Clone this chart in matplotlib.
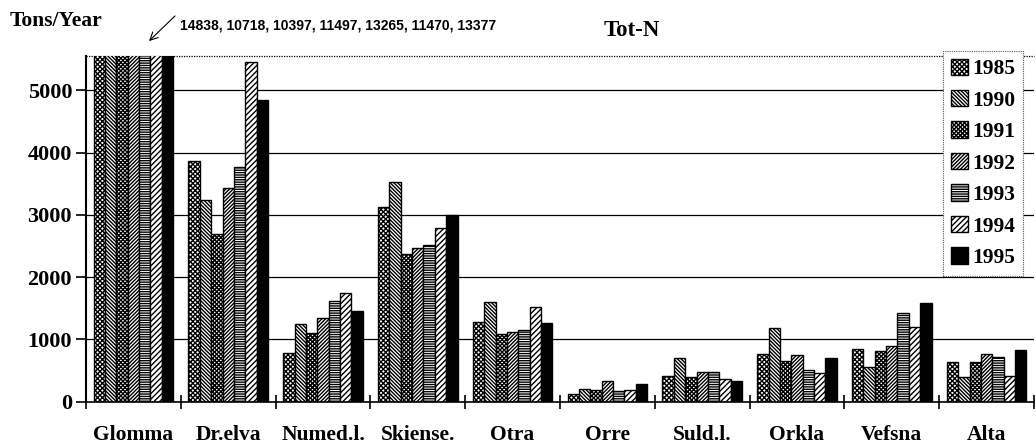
"""
Tot-N transport per river, 1985-1995 (tons/year), redrawn from the scanned figure.
Glomma is far off scale, so its bars are cut at the top and the real values
are written above the plot.
"""

import matplotlib
matplotlib.use("Agg")
import matplotlib.pyplot as plt
import numpy as np

plt.rcParams.update({
    "font.family": ["Liberation Serif", "DejaVu Serif"],
    "font.weight": "bold",
    "hatch.linewidth": 1.0,
})

rivers = ["Glomma", "Dr.elva", "Numed.l.", "Skiense.", "Otra",
          "Orre", "Suld.l.", "Orkla", "Vefsna", "Alta"]
years = ["1985", "1990", "1991", "1992", "1993", "1994", "1995"]

# tons/year, one list per year, in river order
tot_n_1985 = [14838, 3861, 786, 3128, 1278, 120, 406, 770, 845, 636]
tot_n_1990 = [10718, 3235, 1241, 3535, 1604, 200, 700, 1176, 551, 401]
tot_n_1991 = [10397, 2690, 1096, 2374, 1086, 195, 396, 647, 807, 636]
tot_n_1992 = [11497, 3428, 1348, 2471, 1112, 333, 470, 754, 888, 759]
tot_n_1993 = [13265, 3775, 1620, 2508, 1150, 165, 470, 508, 1417, 717]
tot_n_1994 = [11470, 5450, 1738, 2786, 1519, 187, 364, 455, 1193, 412]
tot_n_1995 = [13377, 4850, 1460, 2995, 1262, 290, 326, 706, 1578, 829]

series = [tot_n_1985, tot_n_1990, tot_n_1991, tot_n_1992,
          tot_n_1993, tot_n_1994, tot_n_1995]

# black-and-white fills, like the printed original
HATCHES = ["x" * 7, "\\" * 9, "x" * 8, "/" * 9, "-" * 7, "/" * 6, None]
YMAX = 5550

fig = plt.figure(figsize=(10.36, 4.48), dpi=100)
ax = fig.add_axes([86 / 1036, 46.3 / 448, 948 / 1036, 345.7 / 448])

x = np.arange(len(rivers))
w = 0.12
for j, (year, vals) in enumerate(zip(years, series)):
    hatch = HATCHES[j]
    ax.bar(x + (j - 3) * w, vals, w,
           color="black" if hatch is None else "white",
           edgecolor="black", linewidth=1.0, hatch=hatch,
           label=year, zorder=3)

ax.set_xlim(-0.5, len(rivers) - 0.5)
ax.set_ylim(0, YMAX)

# grid and frame
for v in range(1000, 6000, 1000):
    ax.axhline(v, color="black", lw=0.9, zorder=1)
ax.axhline(YMAX, color="black", lw=0.9, ls=(0, (1, 1)), zorder=1, clip_on=False)
for s in ("top", "right"):
    ax.spines[s].set_visible(False)
ax.spines["left"].set_linewidth(1.5)
ax.spines["bottom"].set_linewidth(1.2)
ax.spines["left"].set_zorder(4)
ax.spines["bottom"].set_zorder(4)

ax.set_yticks(range(0, 6000, 1000))
ax.tick_params(axis="y", direction="out", length=7, width=1.2, pad=3,
               labelsize=16)
ax.set_xticks(x, rivers)
ax.tick_params(axis="x", which="major", length=0, pad=17, labelsize=15.5)
ax.set_xticks(np.arange(-0.5, len(rivers)), minor=True)
ax.tick_params(axis="x", which="minor", direction="inout", length=10, width=1.2)

leg = ax.legend(loc="upper right", bbox_to_anchor=(1023 / 1036, 1 - 51 / 448),
                bbox_transform=fig.transFigure, borderaxespad=0,
                fontsize=15.5, handlelength=0.8, handleheight=0.8,
                handletextpad=0.2, labelspacing=0.5, borderpad=0.35,
                fancybox=False, framealpha=1)
leg.get_frame().set_edgecolor("#555555")
leg.get_frame().set_linewidth(0.8)
leg.get_frame().set_linestyle((0, (1, 1)))
leg.set_zorder(5)

fig.text(10 / 1036, 1 - 21 / 448, "Tons/Year", fontsize=15.5, va="center", ha="left")
fig.text(632 / 1036, 1 - 30 / 448, "Tot-N", fontsize=16.5, va="center", ha="center")

glomma_note = ", ".join(str(vals[0]) for vals in series)
fig.text(180 / 1036, 1 - 25 / 448, glomma_note, fontsize=10, va="center", ha="left",
         family=["Liberation Sans", "DejaVu Sans"])
ax.annotate("", xy=(147, 448 - 43), xycoords="figure pixels",
            xytext=(177, 448 - 14), textcoords="figure pixels",
            arrowprops=dict(arrowstyle="->", lw=0.8, color="black",
                            mutation_scale=14))

fig.savefig("out.png", dpi=100)
